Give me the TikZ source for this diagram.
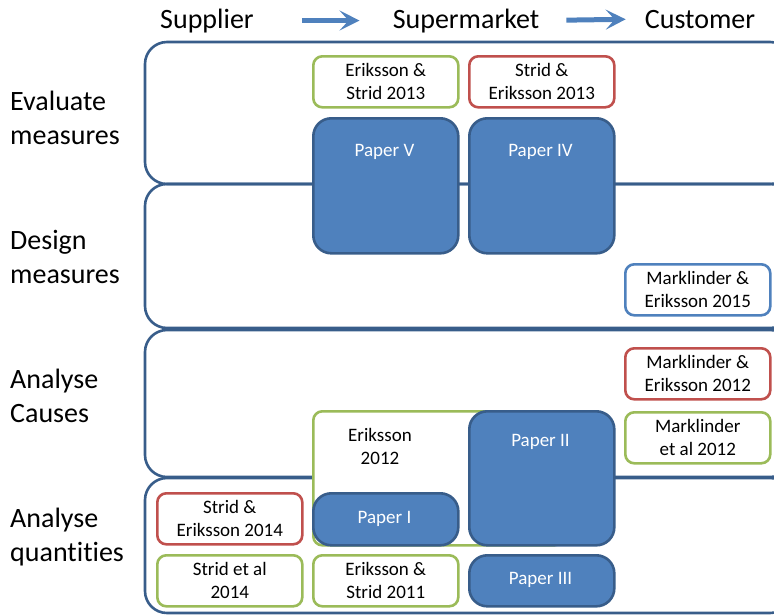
\documentclass[tikz,border=0pt]{standalone}
\usepackage{fontspec}
\setmainfont{Carlito}[Ligatures=NoCommon]
\usetikzlibrary{arrows.meta}
\definecolor{bandblue}{HTML}{385D8A}
\definecolor{paperblue}{HTML}{4F81BD}
\definecolor{refgreen}{HTML}{9BBB59}
\definecolor{refred}{HTML}{C0504D}
\tikzset{
	band/.style={draw=bandblue, line width=2.6pt, rounded corners=22pt},
	ref/.style={draw=#1, fill=white, line width=2.6pt, rounded corners=9pt, minimum width=145pt, minimum height=51pt, inner sep=0pt, anchor=north west, align=center, font=\fontsize{19}{23}\selectfont},
	paper/.style={draw=bandblue, fill=paperblue, line width=2.6pt, rounded corners=18pt, minimum width=145pt, inner sep=0pt, anchor=north west},
	papertext/.style={text=white, align=center, font=\fontsize{19}{23}\selectfont},
	reftext/.style={align=center, font=\fontsize{19}{23}\selectfont},
	stage/.style={anchor=west, align=left, inner sep=0pt, font=\fontsize{28}{34}\selectfont},
	actor/.style={anchor=base, inner sep=0pt, font=\fontsize{28}{34}\selectfont},
	flow/.style={draw=paperblue, line width=5pt, -{Stealth[length=20pt,width=20pt,inset=9pt]}}
}
\begin{document}
\begin{tikzpicture}[x=1pt, y=-1pt, line join=round]
	\useasboundingbox (0,0) rectangle (774,614);
	\clip (0,0) rectangle (774,614);

	% 1. Chain from supplier to customer
	\node[actor] (supplier) at (207,28) {Supplier};
	\node[actor] (market) at (466,28) {Supermarket};
	\node[actor] (customer) at (700,28) {Customer};
	\draw[flow, shorten <=48pt, shorten >=33pt] (supplier.east) -- (market.west);
	\draw[flow, shorten <=27pt, shorten >=19pt] (market.east) -- (customer.west);

	% 2. Bands for the four stages
	\draw[band] (145,42) rectangle (792,184);
	\draw[band] (145,184) rectangle (792,328);
	\draw[band] (145,330) rectangle (792,477);
	\draw[band] (145,478) rectangle (792,613);

	\node[stage] (evaluate) at (10,118) {Evaluate\\measures};
	\node[stage] (design) at (10,257) {Design\\measures};
	\node[stage] (causes) at (10,396) {Analyse\\Causes};
	\node[stage] (quant) at (10,537) {Analyse\\quantities};

	% 3. Evaluate measures
	\node[ref=refgreen] (es13) at (312,55) {Eriksson \&\\Strid 2013};
	\node[ref=refred] (se13) at (468,55) {Strid \&\\Eriksson 2013};
	\node[paper, minimum height=135pt] (p5) at (312,117) {};
	\node[paper, minimum height=135pt] (p4) at (468,117) {};
	\node[papertext] (p5t) at (384.5,152) {Paper V};
	\node[papertext] (p4t) at (540.5,152) {Paper IV};

	% 4. Design measures
	\node[ref=paperblue] (me15) at (624,263) {Marklinder \&\\Eriksson 2015};

	% 5. Analyse causes
	\node[ref=refred] (me12) at (624,347) {Marklinder \&\\Eriksson 2012};
	\node[ref=refgreen] (mal12) at (624,411) {Marklinder\\et al 2012};
	\node[ref=refgreen, minimum width=250pt, minimum height=134pt] (e12) at (312,410) {};
	\node[reftext] (e12t) at (380,446) {Eriksson\\2012};
	\node[paper, minimum height=134pt] (p2) at (468,410) {};
	\node[papertext] (p2t) at (540.5,442) {Paper II};

	% 6. Analyse quantities
	\node[ref=refred] (se14) at (156,492) {Strid \&\\Eriksson 2014};
	\node[paper, minimum height=52pt] (p1) at (312,492) {};
	\node[papertext] (p1t) at (384.5,519) {Paper I};
	\node[ref=refgreen] (sal14) at (156,554) {Strid et al\\2014};
	\node[ref=refgreen] (es11) at (312,554) {Eriksson \&\\Strid 2011};
	\node[paper, minimum height=51pt] (p3) at (468,554) {};
	\node[papertext] (p3t) at (540.5,580) {Paper III};
\end{tikzpicture}
\end{document}
